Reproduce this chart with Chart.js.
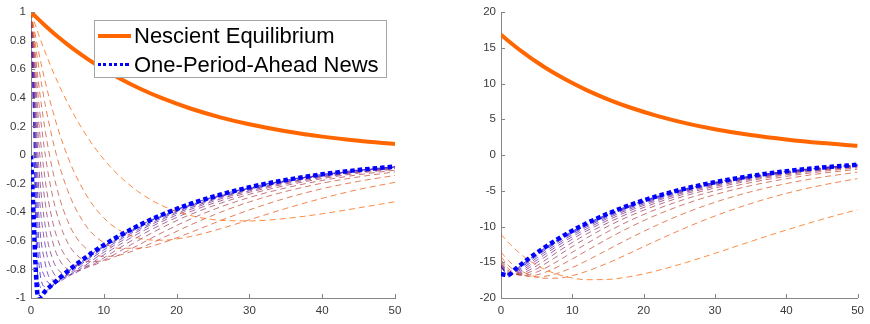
<!DOCTYPE html>
<html>
<head>
<meta charset="utf-8">
<script src="https://cdn.jsdelivr.net/npm/chart.js@4.4.0/dist/chart.umd.min.js"></script>
<style>
  body { margin: 0; background: #fff; }
  #wrap { position: relative; width: 870px; height: 324px; overflow: hidden; }
  canvas { position: absolute; top: 0; }
  #leftChart { left: 0; }
  #rightChart { left: 435px; }
  .legend {
    position: absolute; left: 94px; top: 20px; width: 293px; height: 58px;
    box-sizing: border-box; background: #fff; border: 1px solid #a6a6a6;
    font-family: "Liberation Sans", Arial, sans-serif; font-size: 22px; color: #000;
  }
  .legend .row { position: absolute; left: 39px; height: 28px; line-height: 28px; white-space: nowrap; }
  .legend .swatch { position: absolute; left: 3px; width: 33px; }
  .swatch.orange { top: 13px; height: 4px; background: #ff6600; }
  .swatch.blue {
    top: 42px; height: 3px;
    background: repeating-linear-gradient(to right, #0000ff 0 3px, transparent 3px 5.5px);
  }
</style>
</head>
<body>
<div id="wrap">
  <canvas id="leftChart" width="435" height="324"></canvas>
  <canvas id="rightChart" width="435" height="324"></canvas>
  <div class="legend">
    <div class="swatch orange"></div>
    <div class="row" style="top:1px">Nescient Equilibrium</div>
    <div class="swatch blue"></div>
    <div class="row" style="top:30px">One-Period-Ahead News</div>
  </div>
</div>
<script>
const steps = [0, 1, 2, 3, 4, 5, 6, 8, 10, 12, 15, 18, 22, 26, 30, 35, 40, 45, 50];

// left panel
const nescientLeft = [1, 0.95, 0.9025, 0.8574, 0.8145, 0.7738, 0.7351, 0.6634, 0.5987, 0.5404, 0.4633, 0.3972, 0.3235, 0.2635, 0.2146, 0.1661, 0.1285, 0.0994, 0.0769];
const newsLeft = [0, -1, -0.95, -0.9025, -0.8574, -0.8145, -0.7738, -0.6983, -0.6302, -0.5688, -0.4877, -0.4181, -0.3406, -0.2774, -0.2259, -0.1748, -0.1353, -0.1047, -0.081];
const dashedLeft = [
  [1, 0.85, 0.713, 0.587, 0.472, 0.368, 0.272, 0.106, -0.03, -0.14, -0.266, -0.354, -0.424, -0.456, -0.461, -0.444, -0.411, -0.37, -0.327],
  [1, 0.733, 0.503, 0.306, 0.137, -0.006, -0.127, -0.313, -0.44, -0.522, -0.584, -0.596, -0.569, -0.516, -0.453, -0.374, -0.303, -0.241, -0.191],
  [1, 0.636, 0.34, 0.101, -0.091, -0.243, -0.362, -0.525, -0.613, -0.652, -0.652, -0.615, -0.54, -0.459, -0.384, -0.302, -0.236, -0.184, -0.143],
  [1, 0.519, 0.156, -0.114, -0.313, -0.457, -0.559, -0.672, -0.709, -0.702, -0.651, -0.582, -0.487, -0.401, -0.328, -0.255, -0.197, -0.153, -0.118],
  [1, 0.402, -0.013, -0.296, -0.486, -0.609, -0.685, -0.745, -0.739, -0.701, -0.623, -0.543, -0.446, -0.364, -0.297, -0.23, -0.178, -0.138, -0.106],
  [1, 0.266, -0.192, -0.472, -0.636, -0.727, -0.77, -0.777, -0.736, -0.679, -0.59, -0.508, -0.414, -0.338, -0.275, -0.213, -0.165, -0.127, -0.099],
  [1, 0.129, -0.353, -0.612, -0.741, -0.797, -0.811, -0.78, -0.72, -0.655, -0.564, -0.484, -0.394, -0.321, -0.261, -0.202, -0.157, -0.121, -0.094],
  [1, -0.027, -0.513, -0.732, -0.817, -0.838, -0.826, -0.768, -0.698, -0.632, -0.542, -0.465, -0.379, -0.308, -0.251, -0.194, -0.15, -0.116, -0.09],
  [1, -0.182, -0.648, -0.816, -0.859, -0.851, -0.823, -0.752, -0.68, -0.614, -0.526, -0.451, -0.368, -0.299, -0.244, -0.189, -0.146, -0.113, -0.087],
  [1, -0.358, -0.771, -0.875, -0.878, -0.85, -0.813, -0.735, -0.664, -0.599, -0.514, -0.441, -0.359, -0.292, -0.238, -0.184, -0.143, -0.11, -0.085],
  [1, -0.533, -0.862, -0.904, -0.879, -0.84, -0.799, -0.722, -0.651, -0.588, -0.504, -0.432, -0.352, -0.287, -0.234, -0.181, -0.14, -0.108, -0.084],
  [1, -0.708, -0.921, -0.913, -0.873, -0.83, -0.788, -0.712, -0.642, -0.58, -0.497, -0.426, -0.347, -0.283, -0.23, -0.178, -0.138, -0.107, -0.083],
  [1, -0.883, -0.949, -0.908, -0.863, -0.82, -0.779, -0.703, -0.635, -0.573, -0.491, -0.421, -0.343, -0.279, -0.228, -0.176, -0.136, -0.105, -0.082]
];

// right panel
const nescientRight = [16.81, 15.97, 15.17, 14.41, 13.69, 13.01, 12.35, 11.15, 10.06, 9.08, 7.79, 6.68, 5.44, 4.43, 3.61, 2.79, 2.16, 1.67, 1.29];
const newsRight = [-16.64, -16.81, -15.97, -15.17, -14.41, -13.69, -13.01, -11.74, -10.59, -9.56, -8.2, -7.03, -5.72, -4.66, -3.8, -2.94, -2.27, -1.76, -1.36];
const dashedRight = [
  [-11.09, -12.21, -13.19, -14.05, -14.78, -15.41, -15.94, -16.72, -17.21, -17.44, -17.4, -17.02, -16.15, -15.02, -13.75, -12.1, -10.5, -9.0, -7.64],
  [-13.58, -14.73, -15.62, -16.28, -16.75, -17.07, -17.24, -17.22, -16.87, -16.27, -15.1, -13.75, -11.9, -10.13, -8.53, -6.8, -5.37, -4.22, -3.3],
  [-14.26, -15.42, -16.21, -16.72, -16.99, -17.07, -17.0, -16.52, -15.74, -14.79, -13.23, -11.67, -9.74, -8.05, -6.61, -5.15, -4.0, -3.1, -2.4],
  [-14.69, -15.85, -16.54, -16.86, -16.92, -16.77, -16.48, -15.61, -14.54, -13.39, -11.7, -10.13, -8.31, -6.79, -5.54, -4.29, -3.32, -2.57, -1.99],
  [-14.94, -16.11, -16.67, -16.83, -16.7, -16.38, -15.93, -14.82, -13.6, -12.4, -10.71, -9.21, -7.51, -6.12, -4.99, -3.86, -2.99, -2.31, -1.79],
  [-15.13, -16.29, -16.73, -16.7, -16.39, -15.92, -15.34, -14.08, -12.8, -11.6, -9.96, -8.55, -6.97, -5.67, -4.62, -3.58, -2.77, -2.14, -1.66],
  [-15.26, -16.43, -16.72, -16.53, -16.08, -15.5, -14.85, -13.51, -12.24, -11.05, -9.48, -8.13, -6.62, -5.39, -4.39, -3.4, -2.63, -2.04, -1.58],
  [-15.36, -16.53, -16.67, -16.32, -15.74, -15.08, -14.38, -13.03, -11.77, -10.62, -9.11, -7.81, -6.36, -5.18, -4.22, -3.27, -2.53, -1.96, -1.51],
  [-15.43, -16.6, -16.58, -16.1, -15.44, -14.72, -14.01, -12.66, -11.43, -10.32, -8.84, -7.58, -6.18, -5.03, -4.1, -3.17, -2.45, -1.9, -1.47],
  [-15.51, -16.68, -16.48, -15.87, -15.15, -14.41, -13.7, -12.37, -11.16, -10.07, -8.64, -7.4, -6.03, -4.91, -4.0, -3.1, -2.4, -1.85, -1.43],
  [-15.55, -16.72, -16.35, -15.64, -14.89, -14.15, -13.44, -12.13, -10.95, -9.88, -8.47, -7.26, -5.92, -4.82, -3.93, -3.04, -2.35, -1.82, -1.41],
  [-15.6, -16.76, -16.22, -15.45, -14.68, -13.95, -13.25, -11.96, -10.8, -9.74, -8.35, -7.16, -5.83, -4.75, -3.87, -2.99, -2.32, -1.79, -1.39],
  [-15.62, -16.79, -16.07, -15.27, -14.51, -13.78, -13.09, -11.82, -10.66, -9.62, -8.25, -7.07, -5.76, -4.69, -3.82, -2.96, -2.29, -1.77, -1.37]
];

// ticks
const xTickValues = [0, 10, 20, 30, 40, 50];
const xTickLabels = ["0", "10", "20", "30", "40", "50"];
const yTickValuesLeft = [-1, -0.8, -0.6, -0.4, -0.2, 0, 0.2, 0.4, 0.6, 0.8, 1];
const yTickLabelsLeft = ["-1", "-0.8", "-0.6", "-0.4", "-0.2", "0", "0.2", "0.4", "0.6", "0.8", "1"];
const yTickValuesRight = [-20, -15, -10, -5, 0, 5, 10, 15, 20];
const yTickLabelsRight = ["-20", "-15", "-10", "-5", "0", "5", "10", "15", "20"];

const axisColor = "#858585";
const labelColor = "#3a3a3a";
const tickFont = { family: "'Liberation Sans', Arial, sans-serif", size: 11.5 };

// MATLAB-style tick marks pointing into the plot
const innerTicks = {
  id: "innerTicks",
  afterDatasetsDraw(chart) {
    const { ctx, chartArea: a, scales: { x, y } } = chart;
    ctx.save();
    ctx.strokeStyle = axisColor;
    ctx.lineWidth = 1;
    ctx.beginPath();
    x.ticks.forEach(function (t) {
      const px = Math.round(x.getPixelForValue(t.value)) + 0.5;
      ctx.moveTo(px, a.bottom);
      ctx.lineTo(px, a.bottom - 4);
    });
    y.ticks.forEach(function (t) {
      const py = Math.round(y.getPixelForValue(t.value)) + 0.5;
      ctx.moveTo(a.left, py);
      ctx.lineTo(a.left + 4, py);
    });
    ctx.stroke();
    ctx.restore();
  },
};

function mix(w) {
  const r = Math.round(255 * (1 - w));
  const g = Math.round(102 * (1 - w));
  const b = Math.round(255 * w);
  return "rgba(" + r + "," + g + "," + b + ",0.75)";
}

function points(vals) {
  return steps.map(function (t, i) {
    return { x: t, y: vals[i] };
  });
}

function buildDatasets(nescient, news, dashed) {
  const common = { pointRadius: 0, fill: false, cubicInterpolationMode: "monotone" };
  const sets = [
    Object.assign({ data: points(news), borderColor: "#0000ff", borderWidth: 4.5, borderDash: [4.5, 3] }, common),
    Object.assign({ data: points(nescient), borderColor: "#ff6600", borderWidth: 4 }, common),
  ];
  dashed.forEach(function (row, j) {
    const w = (j / (dashed.length - 1)) * 0.9;
    sets.push(Object.assign({ data: points(row), borderColor: mix(w), borderWidth: 1, borderDash: [6, 4] }, common));
  });
  return sets;
}

function makeChart(id, datasets, cfg) {
  return new Chart(document.getElementById(id), {
    type: "line",
    data: { datasets: datasets },
    options: {
      responsive: false,
      animation: false,
      devicePixelRatio: 1,
      layout: { padding: cfg.padding },
      plugins: { legend: { display: false }, tooltip: { enabled: false } },
      scales: {
        x: {
          type: "linear",
          min: 0,
          max: 50,
          afterBuildTicks: function (s) {
            s.ticks = xTickValues.map(function (v) { return { value: v }; });
          },
          afterFit: function (s) { s.height = 26; },
          grid: { display: false, drawTicks: false },
          border: { display: true, color: axisColor, width: 1 },
          ticks: {
            autoSkip: false,
            maxRotation: 0,
            padding: 6,
            color: labelColor,
            font: tickFont,
            callback: function (v, i) { return xTickLabels[i]; },
          },
        },
        y: {
          type: "linear",
          min: cfg.yValues[0],
          max: cfg.yValues[cfg.yValues.length - 1],
          afterBuildTicks: function (s) {
            s.ticks = cfg.yValues.map(function (v) { return { value: v }; });
          },
          afterFit: function (s) { s.width = cfg.yWidth; },
          grid: { display: false, drawTicks: false },
          border: { display: true, color: axisColor, width: 1 },
          ticks: {
            autoSkip: false,
            padding: 5,
            color: labelColor,
            font: tickFont,
            callback: function (v, i) { return cfg.yLabels[i]; },
          },
        },
      },
    },
    plugins: [innerTicks],
  });
}

makeChart("leftChart", buildDatasets(nescientLeft, newsLeft, dashedLeft), {
  padding: { left: 0, top: 12, right: 40, bottom: 0 },
  yWidth: 31,
  yValues: yTickValuesLeft,
  yLabels: yTickLabelsLeft,
});

makeChart("rightChart", buildDatasets(nescientRight, newsRight, dashedRight), {
  padding: { left: 36, top: 12, right: 7, bottom: 0 },
  yWidth: 30,
  yValues: yTickValuesRight,
  yLabels: yTickLabelsRight,
});
</script>
</body>
</html>
